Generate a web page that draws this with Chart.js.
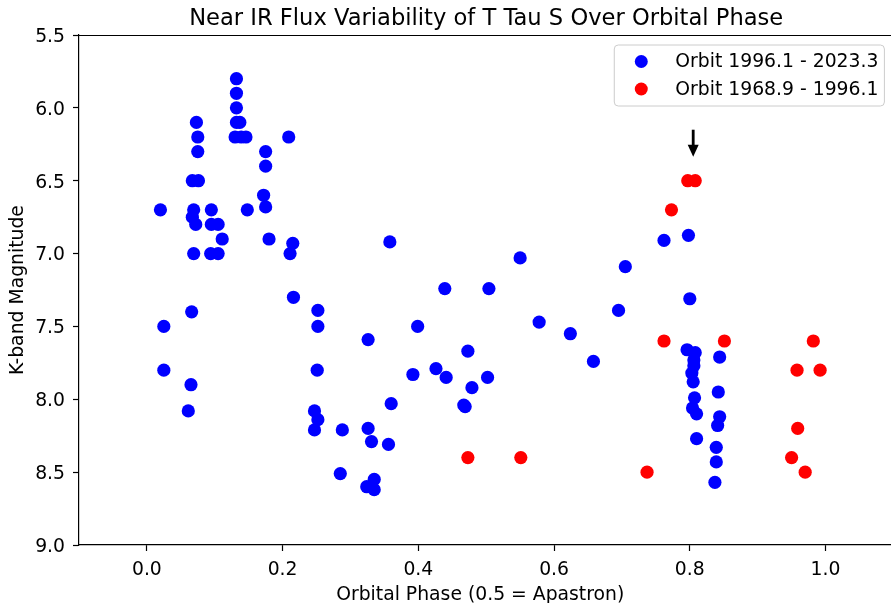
<!DOCTYPE html>
<html>
<head>
<meta charset="utf-8">
<script src="https://cdn.jsdelivr.net/npm/chart.js@4.4.0/dist/chart.umd.min.js"></script>
<style>
  html, body { margin: 0; padding: 0; background: #ffffff; overflow: hidden; }
  #wrap { position: relative; width: 900px; height: 603px; }
</style>
</head>
<body>
<div id="wrap"><canvas id="c"></canvas></div>
<script>
// ---- data ----
const titleText = 'Near IR Flux Variability of T Tau S Over Orbital Phase';
const xAxisLabel = 'Orbital Phase (0.5 = Apastron)';
const yAxisLabel = 'K-band Magnitude';
const seriesNames = ['Orbit 1996.1 - 2023.3', 'Orbit 1968.9 - 1996.1'];

const xTicks = [0.0, 0.2, 0.4, 0.6, 0.8, 1.0];
const xRange = [-0.1, 1.1];
const yRange = [5.5, 9.0];
const yStep = 0.5;

// Orbit 1996.1 - 2023.3 (blue)
const bluePhase = [
  0.020, 0.073, 0.075, 0.075, 0.067, 0.076, 0.069, 0.067, 0.072, 0.069,
  0.095, 0.095, 0.105, 0.111, 0.094, 0.105, 0.132, 0.132, 0.132, 0.132,
  0.137, 0.130, 0.139, 0.146, 0.148, 0.175, 0.175, 0.172, 0.175, 0.180,
  0.209, 0.215, 0.211,
  0.025, 0.066, 0.025, 0.065, 0.061, 0.216,
  0.358, 0.550, 0.439, 0.504, 0.252, 0.252, 0.399, 0.326, 0.578, 0.624,
  0.473, 0.251, 0.392, 0.426, 0.441, 0.502, 0.479, 0.467, 0.469, 0.247,
  0.252, 0.247, 0.288, 0.326, 0.331, 0.360, 0.356, 0.285, 0.335, 0.324,
  0.335,
  0.762, 0.798, 0.705, 0.800, 0.695, 0.658,
  0.796, 0.808, 0.806, 0.806, 0.803, 0.805, 0.807, 0.804, 0.810, 0.810,
  0.844, 0.842, 0.844, 0.841, 0.839, 0.839, 0.837
];
const blueMag = [
  6.70, 6.10, 6.20, 6.30, 6.50, 6.50, 6.70, 6.75, 6.80, 7.00,
  6.70, 6.80, 6.80, 6.90, 7.00, 7.00, 5.80, 5.90, 6.00, 6.10,
  6.10, 6.20, 6.20, 6.20, 6.70, 6.30, 6.40, 6.60, 6.68, 6.90,
  6.20, 6.93, 7.00,
  7.50, 7.40, 7.80, 7.90, 8.08, 7.30,
  6.92, 7.03, 7.24, 7.24, 7.39, 7.50, 7.50, 7.59, 7.47, 7.55,
  7.67, 7.80, 7.83, 7.79, 7.85, 7.85, 7.92, 8.04, 8.05, 8.08,
  8.14, 8.21, 8.21, 8.20, 8.29, 8.03, 8.31, 8.51, 8.55, 8.60,
  8.62,
  6.91, 6.875, 7.09, 7.31, 7.39, 7.74,
  7.66, 7.68, 7.73, 7.77, 7.82, 7.88, 7.99, 8.06, 8.10, 8.27,
  7.71, 7.95, 8.12, 8.18, 8.33, 8.43, 8.57
];

// Orbit 1968.9 - 1996.1 (red)
const redPhase = [0.473, 0.551, 0.797, 0.808, 0.773, 0.762, 0.851, 0.982, 0.958, 0.992, 0.959, 0.950, 0.970, 0.737];
const redMag   = [8.40, 8.40, 6.50, 6.50, 6.70, 7.60, 7.60, 7.60, 7.80, 7.80, 8.20, 8.40, 8.50, 8.50];

// annotation arrow (data coordinates)
const arrowPhase = 0.805;
const arrowFromMag = 6.15;
const arrowToMag = 6.335;

// ---- styling ----
const FONT = "'DejaVu Sans', 'Liberation Sans', sans-serif";
const BLUE = '#0000ff';
const RED = '#ff0000';
const FS = 18.8;

function toPoints(xs, ys) { return xs.map((x, i) => ({ x: x, y: ys[i] })); }

const frameAndExtras = {
  id: 'frameAndExtras',
  afterDatasetsDraw(chart) {
    const { ctx, chartArea: a, scales } = chart;
    ctx.save();
    // top spine
    ctx.strokeStyle = '#000';
    ctx.lineWidth = 1.2;
    ctx.beginPath();
    ctx.moveTo(a.left, a.top + 0.5);
    ctx.lineTo(a.right, a.top + 0.5);
    ctx.stroke();
    // right spine
    ctx.beginPath();
    ctx.moveTo(a.right - 0.5, a.top);
    ctx.lineTo(a.right - 0.5, a.bottom);
    ctx.stroke();

    // arrow annotation
    const ax = scales.x.getPixelForValue(arrowPhase);
    const y0 = scales.y.getPixelForValue(arrowFromMag);
    const y1 = scales.y.getPixelForValue(arrowToMag);
    const headLen = 12, headHalf = 5.5;
    ctx.fillStyle = '#000';
    ctx.fillRect(ax - 1.4, y0, 2.8, (y1 - y0) - headLen + 1);
    ctx.beginPath();
    ctx.moveTo(ax - headHalf, y1 - headLen);
    ctx.lineTo(ax + headHalf, y1 - headLen);
    ctx.lineTo(ax, y1);
    ctx.closePath();
    ctx.fill();

    // title centred over the axes
    ctx.font = '22.6px ' + FONT;
    ctx.textAlign = 'center';
    ctx.textBaseline = 'alphabetic';
    ctx.fillStyle = '#000';
    ctx.fillText(titleText, (a.left + a.right) / 2, 25);

    // x-axis label
    ctx.font = FS + 'px ' + FONT;
    ctx.fillText(xAxisLabel, (a.left + a.right) / 2 - 6, 599.5);

    // legend (matplotlib style, upper right)
    const tw = Math.max(...seriesNames.map(s => ctx.measureText(s).width));
    const boxR = a.right - 9;
    const boxT = a.top + 10;
    const boxW = 61 + tw + 6;
    const boxH = 61;
    const boxL = boxR - boxW;
    ctx.beginPath();
    ctx.roundRect(boxL, boxT, boxW, boxH, 4);
    ctx.fillStyle = 'rgba(255,255,255,0.8)';
    ctx.fill();
    ctx.strokeStyle = '#cccccc';
    ctx.lineWidth = 1;
    ctx.stroke();
    const colors = [BLUE, RED];
    seriesNames.forEach((name, i) => {
      const cy = boxT + 16.5 + i * 27.5;
      ctx.beginPath();
      ctx.arc(boxL + 27, cy, 6.5, 0, Math.PI * 2);
      ctx.fillStyle = colors[i];
      ctx.fill();
      ctx.fillStyle = '#000';
      ctx.textAlign = 'left';
      ctx.textBaseline = 'middle';
      ctx.fillText(name, boxL + 61, cy + 1);
    });
    ctx.restore();
  }
};

new Chart(document.getElementById('c'), {
  type: 'scatter',
  data: {
    datasets: [
      { label: seriesNames[0], data: toPoints(bluePhase, blueMag), backgroundColor: BLUE, borderWidth: 0, pointRadius: 6.6, pointHoverRadius: 6.6 },
      { label: seriesNames[1], data: toPoints(redPhase, redMag), backgroundColor: RED, borderWidth: 0, pointRadius: 6.6, pointHoverRadius: 6.6 }
    ]
  },
  options: {
    responsive: true,
    maintainAspectRatio: false,
    animation: false,
    events: [],
    layout: { padding: { top: 35, right: 4, left: 0, bottom: 0 } },
    plugins: {
      legend: { display: false },
      title: { display: false },
      tooltip: { enabled: false }
    },
    scales: {
      x: {
        type: 'linear',
        min: xRange[0], max: xRange[1],
        afterBuildTicks: (s) => { s.ticks = xTicks.map(v => ({ value: v })); },
        afterFit: (s) => { s.height = 58; },
        ticks: { color: '#000', font: { family: FONT, size: FS }, padding: 8, maxRotation: 0, callback: (v) => Number(v).toFixed(1) },
        grid: { display: true, drawOnChartArea: false, drawTicks: true, tickLength: 6, tickColor: '#000', tickWidth: 1.2 },
        border: { display: true, color: '#000', width: 1.2 },
        title: { display: false }
      },
      y: {
        type: 'linear',
        reverse: true,
        min: yRange[0], max: yRange[1],
        afterFit: (s) => { s.width = 79; },
        ticks: { stepSize: yStep, color: '#000', font: { family: FONT, size: FS }, padding: 8, labelOffset: 2, callback: (v) => Number(v).toFixed(1) },
        grid: { display: true, drawOnChartArea: false, drawTicks: true, tickLength: 6, tickColor: '#000', tickWidth: 1.2 },
        border: { display: true, color: '#000', width: 1.2 },
        title: { display: true, text: yAxisLabel, color: '#000', font: { family: FONT, size: FS, lineHeight: 1.0 }, padding: { top: 9, bottom: 0 } }
      }
    }
  },
  plugins: [frameAndExtras]
});
</script>
</body>
</html>
